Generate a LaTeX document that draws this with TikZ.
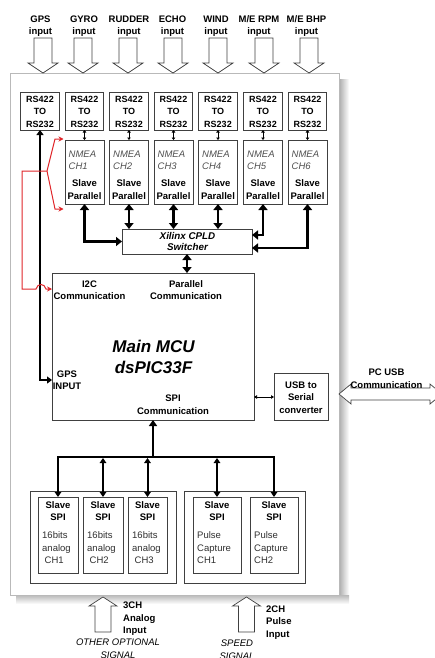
\documentclass[tikz,border=0pt]{standalone}
\usepackage{fontspec}
\setmainfont{Liberation Sans}
\usetikzlibrary{arrows.meta,calc}
\definecolor{bord}{HTML}{404040}
\definecolor{redc}{HTML}{E0262A}
\definecolor{nmgray}{HTML}{505050}
\definecolor{txgray}{HTML}{303030}
\newcommand\fsA{\fontsize{9.5}{12.5}\selectfont}
\newcommand\fsB{\fontsize{9}{12.5}\selectfont}
\begin{document}
\begin{tikzpicture}[x=1pt,y=-1pt,
  box/.style={draw=bord,line width=0.7pt,fill=white,inner sep=0,outer sep=0},
  lbl/.style={font=\bfseries\fsA,align=center,inner sep=0},
  rslbl/.style={font=\bfseries\fsB,align=center,inner sep=0},
  plain/.style={font=\fsA,align=left,inner sep=0,text=txgray},
  nmtxt/.style={font=\itshape\fsA,inner sep=0,text=nmgray},
  hollow/.style={draw=bord,line width=0.7pt,fill=white,line join=miter},
  bigarr/.style={line width=2.6pt,line join=miter,{Triangle[length=6pt,width=9pt]}-{Triangle[length=6pt,width=9pt]}},
  midarr/.style={line width=2pt,line join=miter},
  tinyarr/.style={line width=0.7pt,{Triangle[length=2.5pt,width=3.5pt]}-{Triangle[length=2.5pt,width=3.5pt]}},
  redl/.style={draw=redc,line width=1pt,line join=miter,-{Stealth[length=5pt,width=5pt]}}
]
\useasboundingbox (0,0) rectangle (434,658);

% shadow and main board
\shade[left color=gray!65,right color=white] (339,80) rectangle (349,602);
\shade[top color=gray!55,bottom color=white] (16,595) rectangle (349,604);
\node[draw=gray!55,fill=white,line width=0.6pt,minimum width=329pt,minimum height=522pt,inner sep=0] (main) at (174.5,334) {};

% top input labels and hollow arrows
\foreach \lx/\txt [count=\i] in {40.5/GPS,84/GYRO,129/RUDDER,172.5/ECHO,216/WIND,259/{M/E RPM},306.5/{M/E BHP}}
  \node[lbl] (in\i) at (\lx,26) {\txt\\input};
\foreach \ax in {43,83,128,173,218,264,309}
  \draw[hollow] (\ax-9,38) -- (\ax+9,38) -- (\ax+9,63) -- (\ax+15,63) -- (\ax,73) -- (\ax-15,63) -- (\ax-9,63) -- cycle;

% RS422 boxes
\foreach \cx [count=\i] in {40,84.5,129,173.5,218,263,307.5}
  \node[box,minimum width=38.5pt,minimum height=38pt] (rs\i) at (\cx,111) {};
\foreach \cx [count=\i] in {40,84.5,129,173.5,218,263,307.5}
  \node[rslbl] (rst\i) at (\cx,111.5) {RS422\\TO\\RS232};

% NMEA boxes
\foreach \cx/\ch [count=\i from 2] in {84.5/1,129/2,173.5/3,218/4,263/5,307.5/6}{
  \node[box,minimum width=39pt,minimum height=64pt] (nm\i) at (\cx,172) {};
  \node[nmtxt,anchor=west] (nma\i) at (\cx-16,154) {NMEA};
  \node[nmtxt,anchor=west] (nmb\i) at (\cx-16,166) {CH\ch};
  \node[lbl] (nmc\i) at (\cx,189.5) {Slave\\Parallel};
  \draw[tinyarr] (rs\i.south) -- (nm\i.north);
}

% CPLD
\node[box,minimum width=130pt,minimum height=25pt] (cpld) at (187,241.5) {};
\node[font=\bfseries\itshape\fontsize{9.8}{11.5}\selectfont,align=center,inner sep=0] (cpldt) at (187.5,241.5) {Xilinx CPLD\\Switcher};

% MCU
\node[box,minimum width=202pt,minimum height=147pt] (mcu) at (153,346.5) {};
\node[lbl] (i2ct) at (89.5,290) {I2C\\Communication};
\node[lbl] (part) at (186,290) {Parallel\\Communication};
\node[font=\bfseries\itshape\fontsize{17}{21}\selectfont,align=center,inner sep=0] (mcut) at (153.5,357) {Main MCU\\dsPIC33F};
\node[lbl] (gpst) at (67,380) {GPS\\INPUT};
\node[lbl] (spit) at (173,404.5) {SPI\\Communication};

% NMEA to CPLD connections
\draw[bigarr] (nm2.south) |- (cpld.west);
\draw[bigarr] (nm3.south) -- (nm3.south |- cpld.north);
\draw[bigarr] (nm4.south) -- (nm4.south |- cpld.north);
\draw[bigarr] (nm5.south) -- (nm5.south |- cpld.north);
\draw[bigarr] (nm6.south) |- ([yshift=6.5pt]cpld.east);
\draw[bigarr] (nm7.south) |- ([yshift=-6.5pt]cpld.east);
\draw[bigarr] (cpld.south) -- (cpld.south |- mcu.north);

% GPS line
\draw[midarr,{Triangle[length=5pt,width=7pt]}-{Triangle[length=5pt,width=7pt]}] (rs1.south) |- ([yshift=-107pt]mcu.north west);

% red I2C lines
\coordinate (rj) at (47,171);
\coordinate (i2c) at ([yshift=-16pt]mcu.north west);
\draw[redl] (rj) -- (55,139) -- ([xshift=-1.5pt,yshift=1pt]nm2.north west);
\draw[redl] (rj) -- (55,209) -- ([xshift=-1.5pt,yshift=-5pt]nm2.south west);
\draw[redl] (rj) -- (22,171) -- (22,289) -- (36,289) .. controls (37.5,283) and (44.5,283) .. (46,289) -- (i2c);

% bottom groups
\node[box,minimum width=146pt,minimum height=92pt] (ga) at (103,537) {};
\node[box,minimum width=121pt,minimum height=92pt] (gp) at (244.5,537) {};
\foreach \cx/\w/\nm in {58/40/a1,103/40/a2,147.5/39/a3,217/48/p1,274/48/p2}
  \node[box,minimum width=\w pt,minimum height=76pt] (\nm) at (\cx,535) {};
\foreach \nm in {a1,a2,a3,p1,p2}
  \node[lbl] (\nm s) at ([yshift=24pt]\nm.center) {Slave\\SPI};
\foreach \cx/\c [count=\i] in {38/1,83/2,128/3}
  \node[plain,anchor=west] (at\i) at (\cx+4,548) {16bits\\analog\\\hspace*{2.5pt}CH\c};
\foreach \cx/\c [count=\i] in {193/1,250/2}
  \node[plain,anchor=west] (pt\i) at (\cx+4,548) {Pulse\\Capture\\CH\c};

% SPI bus
\draw[line width=2.4pt,{Triangle[length=6pt,width=8pt]}-] (mcu.south) -- ++(0,37) coordinate (busc);
\draw[midarr,-{Triangle[length=5pt,width=6.5pt]}] (busc) -| (a1.north);
\draw[midarr,-{Triangle[length=5pt,width=6.5pt]}] (busc) -| (p2.north);
\draw[midarr,{Triangle[length=5pt,width=6.5pt]}-{Triangle[length=5pt,width=6.5pt]}] ([yshift=-1pt]a2.north |- busc) -- (a2.north);
\draw[midarr,{Triangle[length=5pt,width=6.5pt]}-{Triangle[length=5pt,width=6.5pt]}] ([yshift=-1pt]a3.north |- busc) -- (a3.north);
\draw[midarr,{Triangle[length=5pt,width=6.5pt]}-{Triangle[length=5pt,width=6.5pt]}] ([yshift=-1pt]p1.north |- busc) -- (p1.north);

% USB converter
\node[box,minimum width=54pt,minimum height=47pt] (usb) at (301,396.5) {};
\node[lbl] (usbt) at (301,397.5) {USB to\\Serial\\converter};
\draw[line width=0.7pt,{Triangle[length=3pt,width=3.5pt]}-{Triangle[length=3pt,width=3.5pt]}] ([yshift=-124pt]mcu.north east) -- ([yshift=-124pt]mcu.north east -| usb.west);

% PC USB double arrow
\draw[hollow] (339,394) -- (351,384) -- (351,388) -- (430,388) -- (430,384) -- (442,394) -- (430,404) -- (430,400) -- (351,400) -- (351,404) -- cycle;
\node[lbl] (pcusb) at (386.5,378.5) {PC USB\\Communication};

% bottom input arrows and labels
\foreach \ax in {103,246.5}
  \draw[hollow] (\ax-8,632) -- (\ax-8,606) -- (\ax-14,606) -- (\ax,597) -- (\ax+14,606) -- (\ax+8,606) -- (\ax+8,632) -- cycle;
\node[lbl,align=left,anchor=west] (ain) at (123,619) {3CH\\Analog\\Input};
\node[lbl,align=left,anchor=west] (pin) at (266,622.5) {2CH\\Pulse\\Input};
\node[font=\itshape\fsA,align=center,inner sep=0,anchor=north] (oos) at (118,639) {OTHER OPTIONAL\\SIGNAL};
\node[font=\itshape\fsA,align=center,inner sep=0,anchor=north] (sps) at (237,640) {SPEED\\SIGNAL};
\end{tikzpicture}
\end{document}
